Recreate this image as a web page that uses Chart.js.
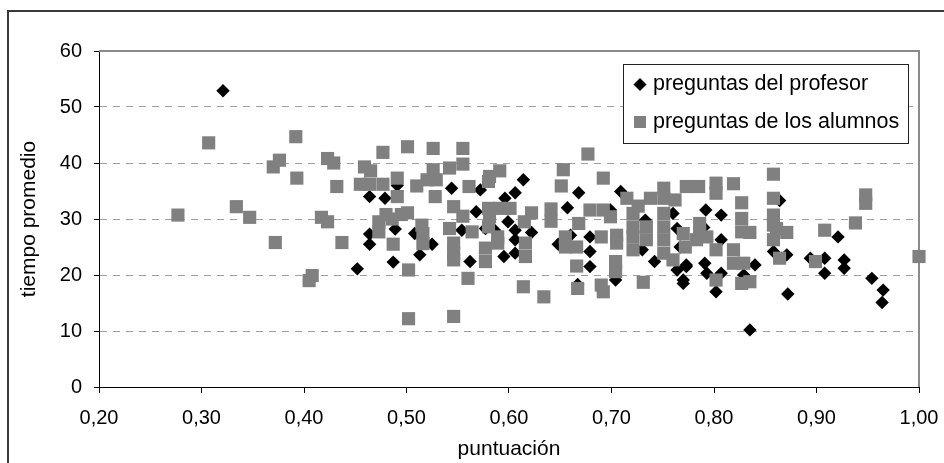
<!DOCTYPE html>
<html><head><meta charset="utf-8">
<script src="https://cdn.jsdelivr.net/npm/chart.js@4/dist/chart.umd.min.js"></script>
<style>html,body{margin:0;padding:0;background:#fff;overflow:hidden}#wrap{position:relative;width:944px;height:463px}</style>
</head><body><div id="wrap"><canvas id="c" width="944" height="463"></canvas></div>
<script>
const seriesNames = ['preguntas del profesor', 'preguntas de los alumnos'];
const xAxisTitle = 'puntuación';
const yAxisTitle = 'tiempo promedio';
const xTickValues = [0.2, 0.3, 0.4, 0.5, 0.6, 0.7, 0.8, 0.9, 1.0];
const yTickValues = [0, 10, 20, 30, 40, 50, 60];

const profesorX = [0.321,0.452,0.464,0.464,0.464,0.479,0.489,0.487,0.491,
  0.508,0.513,0.525,0.544,0.554,0.562,0.568,0.572,0.577,0.586,
  0.595,0.596,0.599,0.606,0.606,0.606,0.606,0.614,0.622,
  0.648,0.657,0.660,0.668,0.667,0.679,0.679,0.679,0.699,0.704,0.709,
  0.733,0.730,0.742,0.760,0.764,0.767,0.764,0.770,0.773,0.770,0.773,
  0.792,0.791,0.793,0.790,0.807,0.807,0.807,0.802,0.829,0.840,0.835,
  0.864,0.858,0.871,0.872,0.894,0.908,0.908,0.921,0.927,0.927,0.954,0.965,0.964];
const profesorY = [52.9,21.1,34.0,27.3,25.5,33.7,28.2,22.3,36.0,
  27.4,23.6,25.5,35.5,28.0,22.4,31.3,35.2,28.3,28.0,
  23.3,33.7,29.5,34.7,28.0,26.3,23.9,37.0,27.6,
  25.5,32.0,27.1,34.7,18.3,26.8,24.2,21.5,31.6,19.1,34.9,
  29.8,24.5,22.4,31.0,28.3,25.0,20.9,19.1,21.5,18.5,21.8,
  31.6,22.1,20.3,28.5,30.7,26.3,20.3,17.0,20.0,21.8,10.2,
  33.3,24.2,23.6,16.6,23.0,23.0,20.3,26.8,22.7,21.2,19.4,17.3,15.1];

const alumnosX = [0.277,0.307,0.334,0.347,
  0.370,0.376,0.372,0.392,0.393,
  0.405,0.408,0.417,0.423,0.423,0.429,0.432,0.437,
  0.455,0.459,0.464,0.465,0.477,0.477,
  0.473,0.473,0.480,0.486,0.491,0.491,0.487,
  0.495,0.501,0.501,0.502,0.502,
  0.510,0.515,0.516,0.516,0.520,0.529,0.526,0.526,0.528,
  0.542,0.542,0.546,0.546,0.546,0.546,0.546,
  0.555,0.555,0.555,0.561,0.560,0.564,
  0.577,0.577,0.580,0.581,0.580,0.581,0.580,0.589,0.589,0.591,0.591,0.601,
  0.614,0.616,0.616,0.622,0.615,
  0.634,0.641,0.641,
  0.651,0.653,0.655,0.655,0.666,0.666,0.667,0.668,
  0.677,0.679,0.692,0.692,0.699,0.690,0.705,0.705,0.690,0.692,0.704,0.704,
  0.715,0.726,0.721,0.721,0.721,0.721,0.731,0.734,0.734,0.738,
  0.751,0.751,0.751,0.751,0.751,0.751,0.760,0.762,0.770,0.772,0.773,
  0.785,0.786,0.786,0.793,0.783,
  0.802,0.802,0.802,0.802,0.819,0.819,0.819,0.827,0.827,0.827,0.835,0.829,0.827,0.835,
  0.858,0.858,0.858,0.858,0.861,0.871,0.858,0.864,
  0.899,0.908,0.938,0.948,0.948,1.000];
const alumnosY = [30.7,43.6,32.2,30.3,
  39.3,40.5,25.8,44.7,37.3,
  19.0,19.9,30.3,29.5,40.8,40.0,35.8,25.8,
  36.2,39.3,36.2,38.6,36.2,41.9,
  29.5,27.7,30.8,30.0,37.3,34.0,25.5,
  30.8,31.1,42.9,20.9,12.2,
  35.9,28.9,27.4,25.6,37.0,37.0,38.8,42.6,34.0,
  39.1,28.3,32.2,25.7,23.9,22.7,12.6,
  42.6,39.8,30.5,35.8,19.4,27.7,
  24.8,22.4,36.7,37.6,31.9,30.4,28.6,26.8,25.7,38.6,31.9,31.9,
  17.9,25.7,23.3,31.1,29.5,
  16.1,31.8,29.6,
  35.9,38.8,26.8,25.0,25.0,21.6,17.6,29.2,
  41.6,31.6,31.6,37.3,30.4,26.8,27.1,25.7,18.2,17.0,22.4,20.6,
  33.7,32.3,31.0,28.6,26.8,24.5,18.7,28.6,26.3,33.7,
  35.5,33.7,31.0,28.6,26.3,23.9,22.7,33.4,27.4,25.0,35.8,
  35.8,29.2,27.4,26.8,26.3,
  36.4,34.6,24.5,19.1,36.3,24.5,22.1,32.9,30.1,27.7,27.6,22.1,18.5,18.8,
  38.0,33.7,30.7,28.9,28.3,27.6,26.3,23.0,
  22.4,28.0,29.3,34.3,32.8,23.3];

const FONT = "'Liberation Sans', Arial, Helvetica, sans-serif";
const toPts = (xs, ys) => xs.map((x, i) => ({x: x, y: ys[i]}));

const framePlugin = {
  id: 'frame',
  beforeDraw(chart) {
    const ctx = chart.ctx;
    ctx.save();
    ctx.fillStyle = '#fff';
    ctx.fillRect(0, 0, chart.width, chart.height);
    ctx.strokeStyle = '#3a3a3a';
    ctx.lineWidth = 2;
    ctx.beginPath();
    ctx.moveTo(8, 470); ctx.lineTo(8, 11); ctx.lineTo(950, 11);
    ctx.stroke();
    ctx.restore();
  },
  beforeDatasetsDraw(chart) {
    const ctx = chart.ctx, a = chart.chartArea;
    ctx.save();
    ctx.strokeStyle = '#8a8a8a';
    ctx.lineWidth = 2;
    ctx.beginPath();
    ctx.moveTo(a.left, a.top); ctx.lineTo(a.right, a.top); ctx.lineTo(a.right, a.bottom);
    ctx.stroke();
    ctx.restore();
  },
  afterDatasetsDraw(chart) {
    const ctx = chart.ctx;
    ctx.save();
    ctx.fillStyle = '#fff';
    ctx.fillRect(623.5, 64.5, 285, 79);
    ctx.strokeStyle = '#222';
    ctx.lineWidth = 1;
    ctx.strokeRect(623.5, 64.5, 285, 79);
    ctx.fillStyle = '#000';
    ctx.beginPath();
    ctx.moveTo(640, 78); ctx.lineTo(646.5, 84.5); ctx.lineTo(640, 91); ctx.lineTo(633.5, 84.5);
    ctx.closePath(); ctx.fill();
    ctx.fillStyle = '#808080';
    ctx.fillRect(634, 116, 12, 12);
    ctx.fillStyle = '#000';
    ctx.font = '21.5px ' + FONT;
    ctx.textBaseline = 'middle';
    ctx.textAlign = 'left';
    ctx.fillText(seriesNames[0], 653, 84);
    ctx.fillText(seriesNames[1], 653, 122);
    ctx.restore();
  }
};

new Chart(document.getElementById('c'), {
  type: 'scatter',
  data: {
    datasets: [
      {label: seriesNames[0], data: toPts(profesorX, profesorY), pointStyle: 'rectRot',
       pointRadius: 6.7, pointHoverRadius: 6.7, pointBackgroundColor: '#000', pointBorderWidth: 0,
       backgroundColor: '#000', borderColor: '#000', order: 1, clip: false},
      {label: seriesNames[1], data: toPts(alumnosX, alumnosY), pointStyle: 'rect',
       pointRadius: 9.3, pointHoverRadius: 9.3, pointBackgroundColor: '#808080', pointBorderWidth: 0,
       backgroundColor: '#808080', borderColor: '#808080', order: 0, clip: false}
    ]
  },
  options: {
    responsive: false, animation: false, devicePixelRatio: 1,
    layout: {padding: {top: 51, right: 25, left: 0, bottom: 0}},
    plugins: {legend: {display: false}, tooltip: {enabled: false}},
    scales: {
      x: {
        type: 'linear', min: 0.2, max: 1.0,
        afterBuildTicks: s => { s.ticks = xTickValues.map(v => ({value: v})); },
        afterFit: s => { s.height = 76; s.paddingLeft = 0; s.paddingRight = 0; },
        grid: {drawOnChartArea: false, drawTicks: true, tickLength: 6, tickColor: '#000', tickWidth: 1},
        border: {color: '#000', width: 1},
        ticks: {color: '#000', font: {family: FONT, size: 20}, padding: 13, maxRotation: 0, autoSkip: false,
                callback: v => Number(v).toFixed(2).replace('.', ',')},
        title: {display: true, text: xAxisTitle, color: '#000', font: {family: FONT, size: 21}, padding: {top: 0, bottom: 1}}
      },
      y: {
        min: 0, max: 60,
        afterBuildTicks: s => { s.ticks = yTickValues.map(v => ({value: v})); },
        afterFit: s => { s.width = 99; s.paddingTop = 0; s.paddingBottom = 0; },
        grid: {color: '#a0a0a0', lineWidth: 1, drawTicks: true, tickLength: 5, tickColor: '#000', tickWidth: 1},
        border: {color: '#000', width: 1, dash: [7, 6]},
        ticks: {color: '#000', font: {family: FONT, size: 20}, padding: 12, callback: v => String(v)},
        title: {display: true, text: yAxisTitle, color: '#000', font: {family: FONT, size: 21}, padding: {top: 17, bottom: 0}}
      }
    }
  },
  plugins: [framePlugin]
});
</script>
</body></html>
